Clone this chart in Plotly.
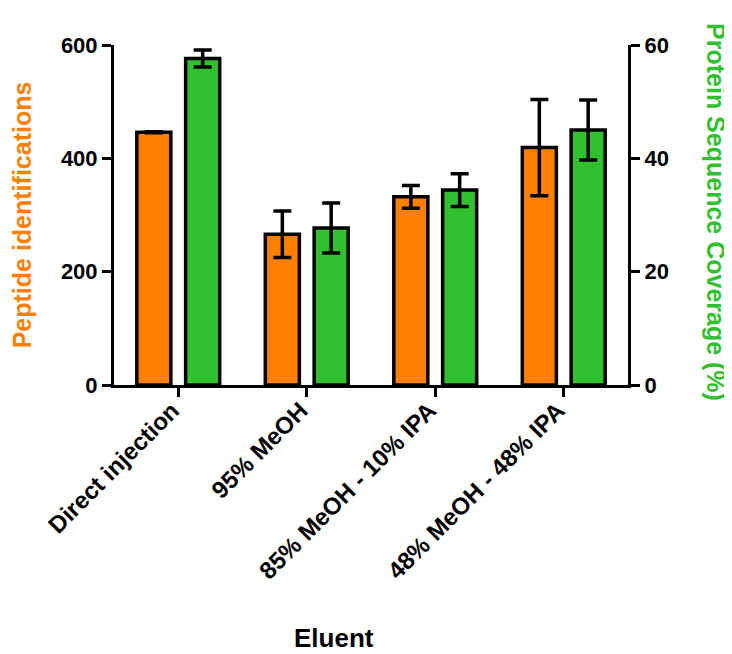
import plotly.graph_objects as go

categories = ["Direct injection", "95% MeOH", "85% MeOH - 10% IPA", "48% MeOH - 48% IPA"]
peptides = [446, 266, 332, 419]
peptides_err = [1, 41, 20, 85]
coverage = [57.6, 27.7, 34.4, 45.0]
coverage_err = [1.5, 4.4, 2.9, 5.3]

ORANGE = "#FF8000"
GREEN = "#30C030"
FONT = "Liberation Sans, Arial, sans-serif"

idx = list(range(len(categories)))
bw = 0.265
shift = 0.19

fig = go.Figure()
fig.add_trace(go.Bar(
    x=idx, y=peptides, width=bw, offset=-shift - bw / 2,
    marker=dict(color=ORANGE, line=dict(color="black", width=3.5)),
    error_y=dict(type="data", array=peptides_err, color="black", thickness=3.5, width=9),
    yaxis="y", showlegend=False,
))
fig.add_trace(go.Bar(
    x=idx, y=coverage, width=bw, offset=shift - bw / 2,
    marker=dict(color=GREEN, line=dict(color="black", width=3.5)),
    error_y=dict(type="data", array=coverage_err, color="black", thickness=3.5, width=9),
    yaxis="y2", showlegend=False,
))

tickfont = dict(family=FONT, size=22, color="black", weight="bold")
catfont = dict(family=FONT, size=24, color="black", weight="bold")

fig.update_layout(
    width=732, height=654,
    margin=dict(l=106, r=112, t=37, b=277),
    paper_bgcolor="white", plot_bgcolor="white",
    font=dict(family=FONT),
    barmode="overlay",
    xaxis=dict(
        range=[-0.5, 3.5], tickvals=idx, ticktext=categories, tickangle=-45,
        showline=True, linecolor="black", linewidth=3, ticks="outside",
        ticklen=9, tickwidth=3, tickcolor="black", showgrid=False, zeroline=False,
        tickfont=catfont, ticklabelshift=-6, ticklabelstandoff=-10,
    ),
    yaxis=dict(
        range=[0, 600], tickvals=[0, 200, 400, 600], showline=True, linecolor="black",
        linewidth=3, ticks="outside", ticklen=9, tickwidth=3, tickcolor="black",
        showgrid=False, zeroline=False, tickfont=tickfont,
        title=dict(text="Peptide identifications",
                   font=dict(family=FONT, size=25, color=ORANGE, weight="bold"), standoff=24),
    ),
    yaxis2=dict(
        range=[0, 60], tickvals=[0, 20, 40, 60], overlaying="y", side="right",
        showline=True, linecolor="black", linewidth=3, ticks="outside", ticklen=9,
        tickwidth=3, tickcolor="black", showgrid=False, zeroline=False, tickfont=tickfont,
    ),
    annotations=[
        dict(text="Protein Sequence Coverage (%)", textangle=90, xref="paper", yref="paper",
             x=1.171, y=0.509, xanchor="center", yanchor="middle", showarrow=False,
             font=dict(family=FONT, size=25, color=GREEN, weight="bold")),
        dict(text="Eluent", xref="paper", yref="paper", x=0.428, y=-0.744,
             xanchor="center", yanchor="middle", showarrow=False,
             font=dict(family=FONT, size=26, color="black", weight="bold")),
    ],
)

fig.write_html("out.html")
